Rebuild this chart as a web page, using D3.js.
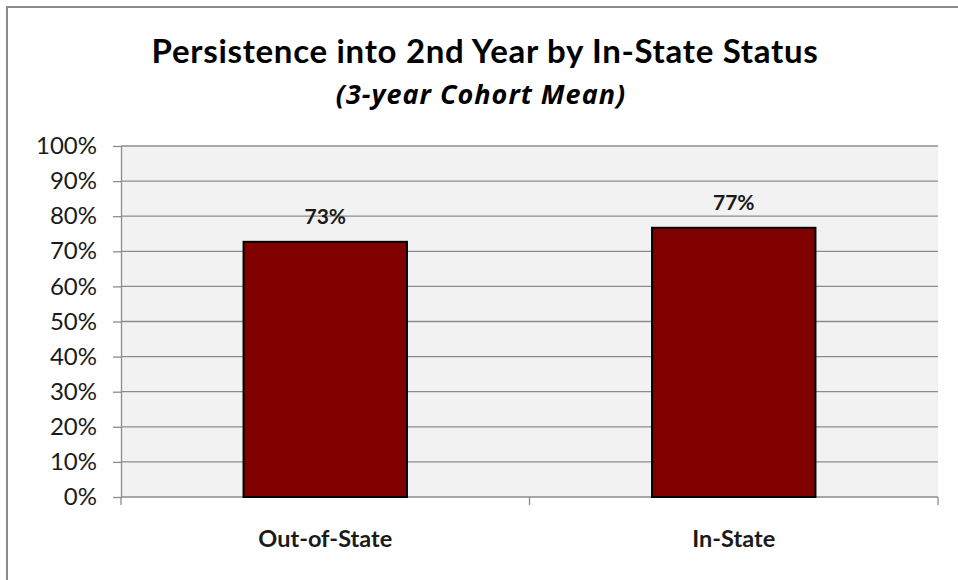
<!DOCTYPE html>
<html>
<head>
<meta charset="utf-8">
<script src="https://cdn.jsdelivr.net/npm/d3@7"></script>
<style>
  body { margin: 0; background: #fff; }
  text { font-family: Lato, "Open Sans", sans-serif; }
</style>
</head>
<body>
<div id="container"></div>
<script>
// chart values
var categories = ["Out-of-State", "In-State"];
var values = [0.727, 0.767];
var yTicks = [0, 0.1, 0.2, 0.3, 0.4, 0.5, 0.6, 0.7, 0.8, 0.9, 1.0];
var title = "Persistence into 2nd Year by In-State Status";
var subtitle = "(3-year Cohort Mean)";

var width = 958, height = 580;
var plot = {left: 121, right: 938, top: 146, bottom: 497};

var svg = d3.select("#container")
    .append("svg")
    .attr("width", width)
    .attr("height", height);

// outer chart border (runs off the right/bottom of the picture)
svg.append("rect")
    .attr("x", 7).attr("y", 7)
    .attr("width", width + 20).attr("height", height + 20)
    .style("fill", "#fff")
    .style("stroke", "#8a8a8a")
    .style("stroke-width", 2);

var x = d3.scaleBand()
    .domain(categories)
    .range([plot.left, plot.right])
    .paddingInner(0.6)
    .paddingOuter(0.3);

var y = d3.scaleLinear()
    .domain([0, 1])
    .range([plot.bottom, plot.top]);

// plot background
svg.append("rect")
    .attr("x", plot.left).attr("y", plot.top)
    .attr("width", plot.right - plot.left)
    .attr("height", plot.bottom - plot.top)
    .style("fill", "#f2f2f2");

// gridlines
svg.selectAll("line.grid")
    .data(yTicks.filter(function(d){ return d > 0; }))
    .enter()
    .append("line")
        .attr("class", "grid")
        .attr("x1", plot.left).attr("x2", plot.right)
        .attr("y1", function(d){ return y(d); })
        .attr("y2", function(d){ return y(d); })
        .style("stroke", "#8c8c8c")
        .style("stroke-width", 1.3);

// y axis
var yAxis = svg.append("g")
    .attr("transform", "translate(" + plot.left + ",0)")
    .call(d3.axisLeft(y).tickValues(yTicks).tickSize(8).tickSizeOuter(0).tickPadding(16)
        .tickFormat(d3.format(".0%")));
yAxis.selectAll("path, line").style("stroke", "#8c8c8c").style("stroke-width", 1.3);
yAxis.selectAll("text")
    .style("font-family", "Lato, sans-serif")
    .style("font-size", "24px")
    .style("fill", "#1a1a1a");

// x axis with ticks on the category boundaries
var xAxis = svg.append("g")
    .attr("transform", "translate(0," + plot.bottom + ")");
xAxis.append("line")
    .attr("x1", plot.left).attr("x2", plot.right)
    .style("stroke", "#8c8c8c").style("stroke-width", 1.3);
xAxis.selectAll("line.tick")
    .data(d3.range(categories.length + 1))
    .enter()
    .append("line")
        .attr("class", "tick")
        .attr("x1", function(i){ return plot.left + i * x.step(); })
        .attr("x2", function(i){ return plot.left + i * x.step(); })
        .attr("y1", 0).attr("y2", 8)
        .style("stroke", "#8c8c8c").style("stroke-width", 1.3);
xAxis.selectAll("text")
    .data(categories)
    .enter()
    .append("text")
        .attr("x", function(d){ return x(d) + x.bandwidth() / 2; })
        .attr("y", 50)
        .attr("text-anchor", "middle")
        .text(function(d){ return d; })
        .style("font-size", "23.5px")
        .style("font-weight", "bold")
        .style("fill", "#1a1a1a");

// bars
svg.selectAll("rect.bar")
    .data(values)
    .enter()
    .append("rect")
        .attr("class", "bar")
        .attr("x", function(d, i){ return x(categories[i]); })
        .attr("y", function(d){ return y(d); })
        .attr("width", x.bandwidth())
        .attr("height", function(d){ return y(0) - y(d); })
        .style("fill", "#800000")
        .style("stroke", "#000")
        .style("stroke-width", 2);

// value labels
svg.selectAll("text.val")
    .data(values)
    .enter()
    .append("text")
        .attr("class", "val")
        .attr("x", function(d, i){ return x(categories[i]) + x.bandwidth() / 2; })
        .attr("y", function(d){ return y(d) - 18; })
        .attr("text-anchor", "middle")
        .text(function(d){ return d3.format(".0%")(d); })
        .style("font-size", "21px")
        .style("font-weight", "bold")
        .style("fill", "#1a1a1a");

// titles
svg.append("text")
    .attr("x", 485).attr("y", 63)
    .attr("text-anchor", "middle")
    .text(title)
    .style("font-size", "33px")
    .style("letter-spacing", "0.7px")
    .style("font-weight", "bold")
    .style("fill", "#000");

svg.append("text")
    .attr("x", 481).attr("y", 104)
    .attr("text-anchor", "middle")
    .text(subtitle)
    .style("font-family", "'Open Sans', sans-serif")
    .style("font-size", "27px")
    .style("letter-spacing", "1px")
    .style("font-weight", "bold")
    .style("font-style", "italic")
    .style("fill", "#000");
</script>
</body>
</html>
